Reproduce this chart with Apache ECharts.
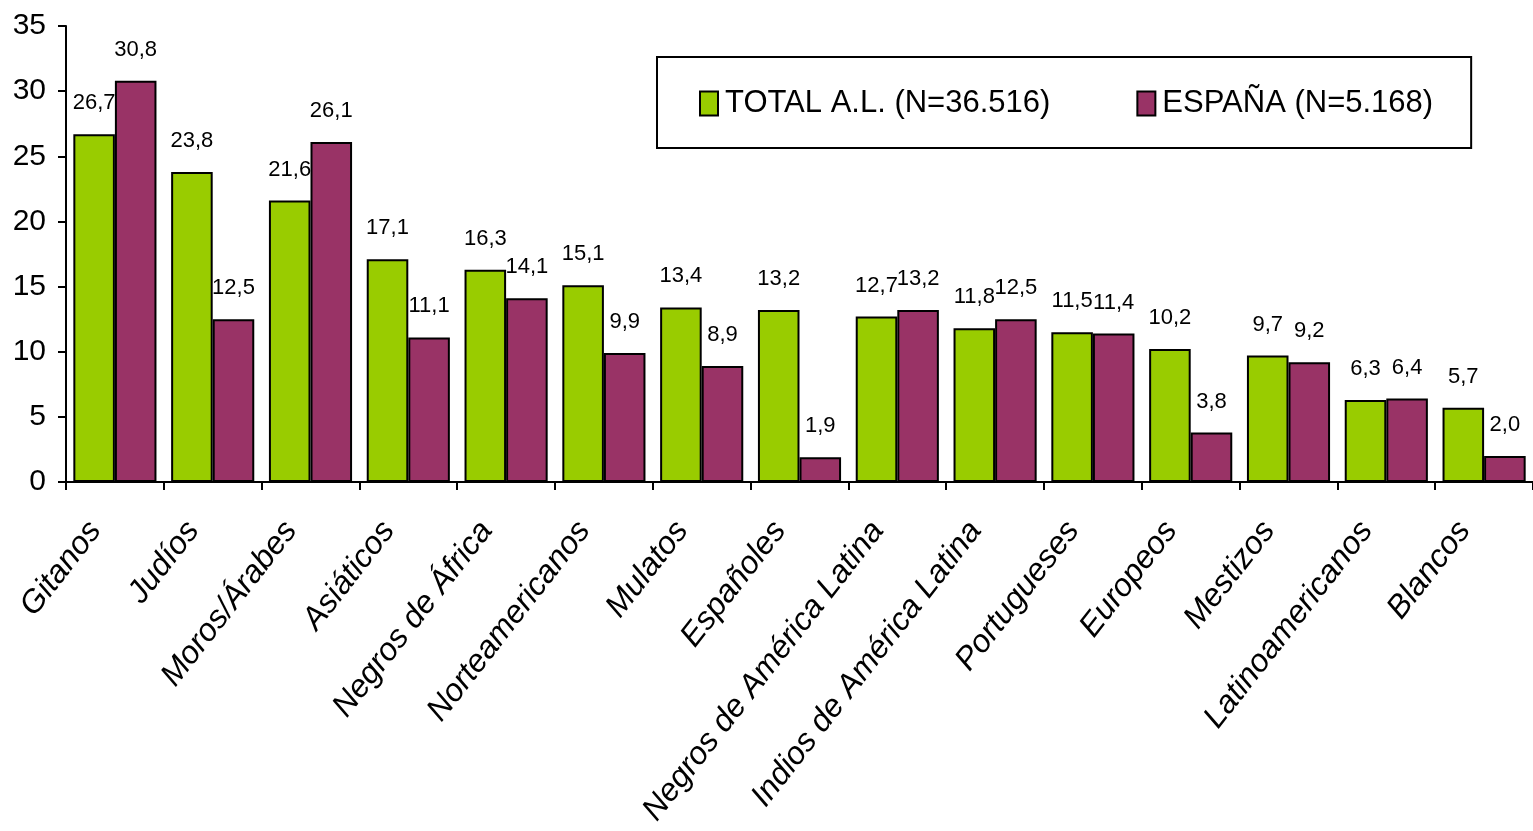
<!DOCTYPE html>
<html>
<head>
<meta charset="utf-8">
<script src="https://cdn.jsdelivr.net/npm/echarts@6/dist/echarts.min.js"></script>
<style>
	html, body { margin: 0; padding: 0; background: #fff; }
	#chart { width: 1533px; height: 831px; }
</style>
</head>
<body>
<div id="chart"></div>
<script>
const categories = ['Gitanos', 'Judíos', 'Moros/Árabes', 'Asiáticos', 'Negros de África', 'Norteamericanos', 'Mulatos', 'Españoles', 'Negros de América Latina', 'Indios de América Latina', 'Portugueses', 'Europeos', 'Mestizos', 'Latinoamericanos', 'Blancos']
const totalAL = [26.7, 23.8, 21.6, 17.1, 16.3, 15.1, 13.4, 13.2, 12.7, 11.8, 11.5, 10.2, 9.7, 6.3, 5.7]
const espana = [30.8, 12.5, 26.1, 11.1, 14.1, 9.9, 8.9, 1.9, 13.2, 12.5, 11.4, 3.8, 9.2, 6.4, 2.0]
const seriesNames = ['TOTAL A.L. (N=36.516)', 'ESPAÑA (N=5.168)']

const font = "'Liberation Sans', Arial, sans-serif"

const chart = echarts.init(document.getElementById('chart'))

const valueLabel = {
	show: true,
	position: 'top',
	distance: 20,
	fontFamily: font,
	fontSize: 22,
	color: '#000',
	formatter: (p) => p.value.toFixed(1).replace('.', ','),
}

chart.setOption({
	animation: false,
	grid: { left: 66, right: 0, top: 26, bottom: 349 },
	legend: {
		left: 657,
		top: 57,
		orient: 'horizontal',
		borderColor: '#000',
		borderWidth: 2,
		padding: [31, 38, 29, 42],
		itemGap: 86,
		itemWidth: 18,
		itemHeight: 24,
		icon: 'rect',
		textStyle: { fontFamily: font, fontSize: 31, color: '#000', padding: [0, 0, 0, 2] },
		data: seriesNames,
	},
	xAxis: {
		type: 'category',
		data: categories,
		axisLine: { lineStyle: { color: '#000', width: 2 } },
		axisTick: { show: true, length: 8, lineStyle: { color: '#000', width: 2 } },
		axisLabel: {
			rotate: 52,
			margin: 18,
			interval: 0,
			fontFamily: font,
			fontStyle: 'italic',
			fontSize: 32,
			color: '#000',
			padding: [0, 32, 0, 0],
		},
	},
	yAxis: {
		type: 'value',
		min: 0,
		max: 35,
		interval: 5,
		splitLine: { show: false },
		axisLine: { show: true, lineStyle: { color: '#000', width: 2 } },
		axisTick: { show: true, length: 8, lineStyle: { color: '#000', width: 2 } },
		axisLabel: { fontFamily: font, fontSize: 30, color: '#000', margin: 20 },
	},
	series: [
		{
			name: seriesNames[0],
			type: 'bar',
			data: totalAL,
			barGap: '0%',
			barCategoryGap: '15%',
			itemStyle: { color: '#99cc00', borderColor: '#000', borderWidth: 2 },
			label: valueLabel,
		},
		{
			name: seriesNames[1],
			type: 'bar',
			data: espana,
			itemStyle: { color: '#993366', borderColor: '#000', borderWidth: 2 },
			label: valueLabel,
		},
	],
})
</script>
</body>
</html>
